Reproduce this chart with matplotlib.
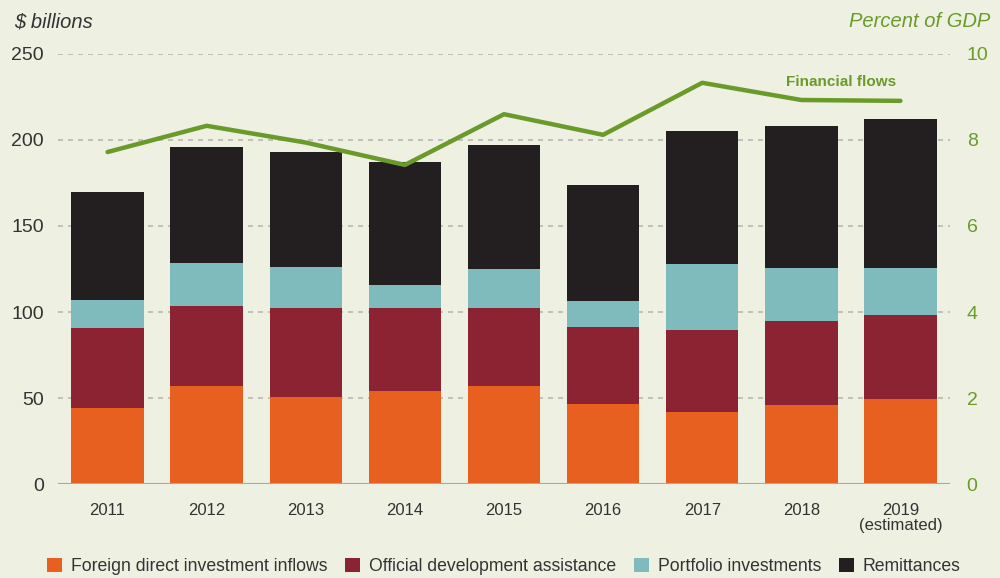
import numpy as np
import matplotlib.pyplot as plt

years = ['2011', '2012', '2013', '2014', '2015', '2016', '2017', '2018', '2019\n(estimated)']
fdi = [44, 57, 50.5, 54, 57, 46.5, 42, 46, 49.5]
oda = [46.5, 46.5, 51.7, 48.3, 45.3, 44.8, 47.6, 48.8, 48.9]
portfolio = [16.3, 25, 23.7, 13.4, 22.7, 15.1, 38.5, 30.8, 27.3]
remit = [63, 67.5, 67, 71.3, 72, 67.6, 77, 82.4, 86.4]
flows_pct = [7.72, 8.33, 7.94, 7.42, 8.6, 8.12, 9.33, 8.93, 8.91]

bg = '#EEF0E2'
green = '#6A9A2A'
txt = '#333333'
series = [(fdi, '#E8601F', 'Foreign direct investment inflows'),
          (oda, '#8B2332', 'Official development assistance'),
          (portfolio, '#7FBABD', 'Portfolio investments'),
          (remit, '#231F20', 'Remittances')]

plt.rcParams['font.family'] = ['Liberation Sans', 'DejaVu Sans']

fig = plt.figure(figsize=(10, 5.78), dpi=100, facecolor=bg)
ax = fig.add_axes([0.058, 0.1626, 0.892, 0.744])
ax.set_facecolor(bg)
x = np.arange(len(years))
bottom = np.zeros(len(years))
for vals, col, lab in series:
    ax.bar(x, vals, 0.73, bottom=bottom, color=col, label=lab, zorder=2)
    bottom += np.array(vals)

ax.set_xlim(-0.5, 8.5)
ax.set_ylim(0, 250)
ax.set_yticks([0, 50, 100, 150, 200, 250])
for v in [50, 100, 150, 200, 250]:
    ax.axhline(v, color='#B8B8B2', lw=1.2, ls=(0, (3, 3)), zorder=1)
ax.axhline(0, color='#A8A8A8', lw=1.5, zorder=3)
for s in ax.spines.values():
    s.set_visible(False)
ax.set_xticks(x)
ax.set_xticklabels(years, fontsize=12, color=txt, linespacing=0.95)
ax.tick_params(axis='x', length=0, pad=14)
ax.tick_params(axis='y', length=0, pad=10, labelsize=14, labelcolor=txt)

ax2 = ax.twinx()
ax2.set_ylim(0, 10)
ax2.set_yticks([0, 2, 4, 6, 8, 10])
for s in ax2.spines.values():
    s.set_visible(False)
ax2.tick_params(axis='y', length=0, pad=12, labelsize=14, labelcolor=green)
ax2.plot(x, flows_pct, color=green, lw=3.2, solid_capstyle='round', zorder=5)
ax2.text(7.4, 9.35, 'Financial flows', color=green, fontsize=11, fontweight='bold',
         ha='center', va='center')

fig.text(0.014, 0.962, '$ billions', fontsize=14.5, style='italic', color=txt, va='center')
fig.text(0.99, 0.962, 'Percent of GDP', fontsize=14.5, style='italic', color=green,
         va='center', ha='right')

h, l = ax.get_legend_handles_labels()
fig.legend(h, l, loc='center', bbox_to_anchor=(0.504, 0.02), ncol=4, frameon=False,
           fontsize=12.7, handlelength=0.85, handleheight=0.85, handletextpad=0.5,
           columnspacing=1.0, labelcolor=txt)

fig.savefig('out.png', dpi=100, facecolor=bg)
